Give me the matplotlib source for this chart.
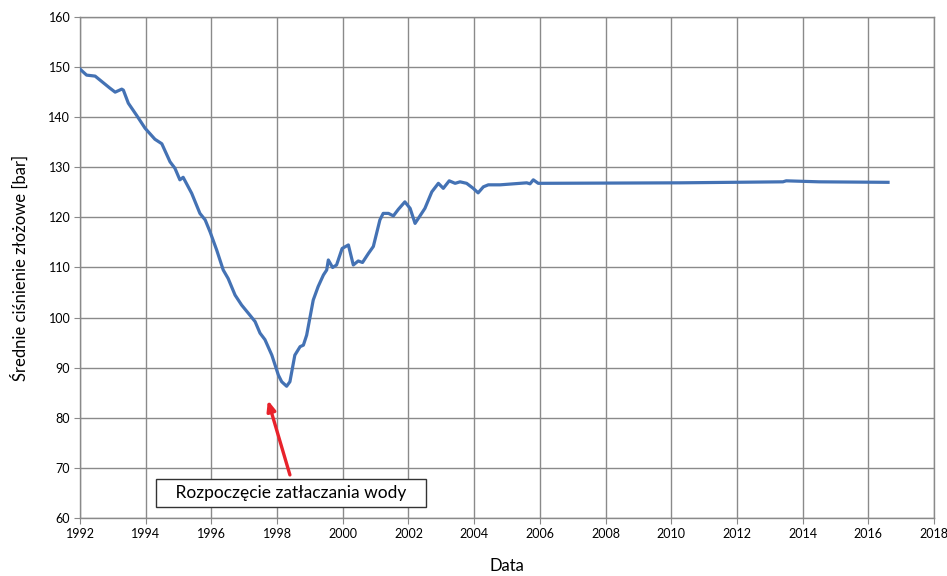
"""Średnie ciśnienie złożowe w czasie z zaznaczonym początkiem zatłaczania wody."""

import matplotlib
matplotlib.use("Agg")
import matplotlib.pyplot as plt
import numpy as np

plt.rcParams["font.family"] = ["Lato", "DejaVu Sans"]

# ---------------------------------------------------------------------------
# Dane: data (lata dziesiętne) i ciśnienie [bar]
# ---------------------------------------------------------------------------
years = [
    1992.00, 1992.20, 1992.46, 1992.61, 1992.91, 1993.07, 1993.27, 1993.32,
    1993.47, 1993.72, 1993.98, 1994.28, 1994.49, 1994.74, 1994.89, 1995.04,
    1995.14, 1995.40, 1995.65, 1995.81, 1995.96, 1996.16, 1996.36, 1996.51,
    1996.72, 1996.92, 1997.17, 1997.33, 1997.48, 1997.63, 1997.84, 1998.04,
    1998.14, 1998.29, 1998.39, 1998.54, 1998.70, 1998.80, 1998.90, 1999.10,
    1999.25, 1999.41, 1999.51, 1999.56, 1999.69, 1999.81, 1999.98, 2000.17,
    2000.32, 2000.47, 2000.60, 2000.78, 2000.93, 2001.13, 2001.23, 2001.39,
    2001.54, 2001.69, 2001.89, 2002.05, 2002.20, 2002.50, 2002.71, 2002.91,
    2003.06, 2003.24, 2003.42, 2003.57, 2003.77, 2003.97, 2004.12, 2004.28,
    2004.43, 2004.79, 2005.60, 2005.70, 2005.80, 2005.95, 2010.27, 2013.40,
    2013.50, 2014.50, 2016.60,
]
pressure = [
    149.6, 148.4, 148.2, 147.4, 145.8, 145.0, 145.6, 145.4,
    142.8, 140.4, 137.8, 135.6, 134.7, 131.1, 129.8, 127.5,
    128.0, 124.8, 120.8, 119.5, 117.1, 113.5, 109.5, 107.8,
    104.5, 102.5, 100.5, 99.2, 96.9, 95.6, 92.5, 88.5,
    87.2, 86.3, 87.2, 92.5, 94.2, 94.5, 96.5, 103.5,
    106.2, 108.5, 109.5, 111.5, 110.0, 110.5, 113.8, 114.5,
    110.5, 111.3, 111.0, 112.8, 114.2, 119.5, 120.8, 120.8,
    120.3, 121.6, 123.1, 121.8, 118.8, 121.8, 125.1, 126.8,
    125.8, 127.3, 126.8, 127.1, 126.8, 125.8, 124.9, 126.1,
    126.5, 126.5, 126.9, 126.7, 127.5, 126.8, 126.9, 127.1,
    127.3, 127.1, 127.0,
]

# Adnotacja: grot strzałki, początek strzałki, tekst
note_text = "Rozpoczęcie zatłaczania wody"
arrow_head = (1997.72, 83.5)
arrow_tail = (1998.39, 68.6)
text_pos = (1998.42, 65.0)

x_ticks = np.arange(1992, 2019, 2)
y_ticks = np.arange(60, 161, 10)

_GRID = "#8a8a8a"
_LINE = "#4472b4"

fig = plt.figure(figsize=(9.47, 5.76), dpi=100)
ax = fig.add_axes([0.0845, 0.1007, 0.9018, 0.8698])

ax.plot(years, pressure, color=_LINE, lw=2.3, solid_joinstyle="round",
        zorder=3)

ax.set_xlim(1992, 2018)
ax.set_ylim(60, 160)
ax.set_xticks(x_ticks)
ax.set_yticks(y_ticks)
ax.tick_params(axis="both", labelsize=9, color=_GRID, length=4,
               direction="out", pad=3)
ax.grid(True, color=_GRID, lw=1.0)
ax.set_axisbelow(True)
for spine in ax.spines.values():
    spine.set_color(_GRID)
    spine.set_linewidth(1.0)

ax.set_xlabel("Data", fontsize=12, labelpad=13)
ax.set_ylabel("Średnie ciśnienie złożowe [bar]", fontsize=12, labelpad=14)

ax.annotate(
    "",
    xy=arrow_head, xytext=arrow_tail,
    arrowprops=dict(arrowstyle="-|>,head_length=0.6,head_width=0.25",
                    color="#e8222b", lw=2.4, shrinkA=0, shrinkB=0),
    zorder=4,
)
ax.text(
    *text_pos, "   " + note_text + "   ",
    ha="center", va="center", fontsize=12.5,
    bbox=dict(boxstyle="square,pad=0.35", facecolor="white",
              edgecolor="#333333", linewidth=1.0),
    zorder=5,
)

fig.savefig("out.png", dpi=100)
